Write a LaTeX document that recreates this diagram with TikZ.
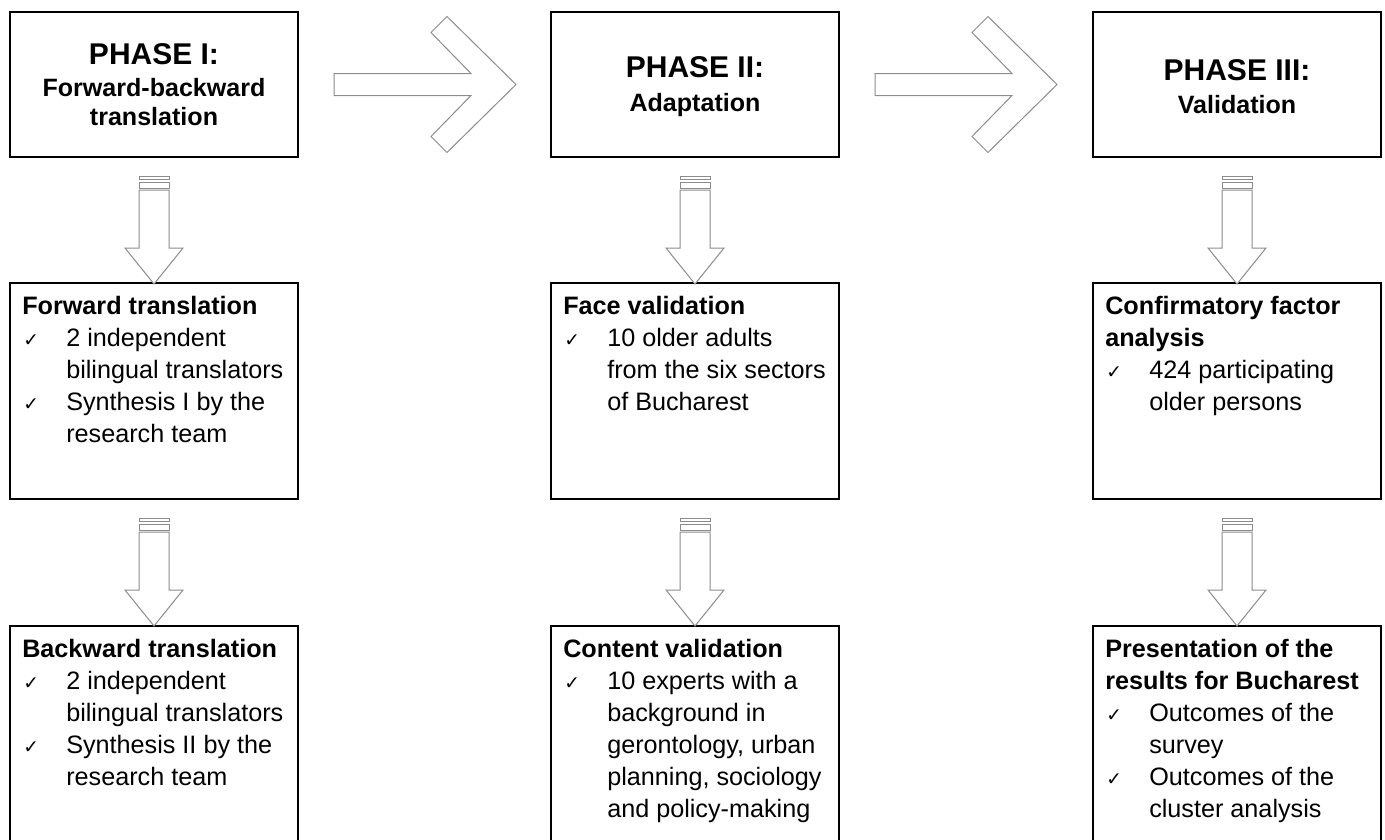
\documentclass[tikz,border=0pt]{standalone}
\usepackage{fontspec}
\setmainfont{Liberation Sans}
\newfontfamily\chkfont{DejaVu Sans}
\usetikzlibrary{calc}
\newcommand\mychk{\makebox[33pt][l]{\hspace{0.75pt}{\chkfont\fontsize{14pt}{24pt}\selectfont ✓}}}
\newcommand\myind{\hspace*{33pt}}
\begin{document}
\begin{tikzpicture}[x=0.75pt,y=-0.75pt,
 box/.style={draw=black, line width=1.5pt, minimum width=216pt, inner sep=0pt, anchor=north west},
 phasebox/.style={box, minimum height=108.75pt},
 stepbox/.style={box, minimum height=162pt},
 phasetext/.style={align=center, font=\bfseries\fontsize{18.8pt}{22pt}\selectfont, inner sep=0pt},
 bodytext/.style={align=left, anchor=north west, inner sep=0pt, font=\fontsize{18.9pt}{24pt}\selectfont},
 hollow/.style={draw=black!45, line width=0.75pt, fill=white, line join=miter},
]
\useasboundingbox (0,0) rectangle (1385,839);
\clip (0,0) rectangle (1385,839);

% phase boxes
\node[phasebox] (p1) at (9,11) {};
\node[phasebox] (p2) at (550,11) {};
\node[phasebox] (p3) at (1092,11) {};
\node[phasetext] (p1t) at (p1.center) {{\fontsize{22.5pt}{22pt}\selectfont PHASE I:}\\[2pt]Forward-backward\\translation};
\node[phasetext] (p2t) at ($(p2.center)+(0,2)$) {{\fontsize{22.5pt}{22pt}\selectfont PHASE II:}\\[3pt]Adaptation};
\node[phasetext] (p3t) at ($(p3.center)+(0,2)$) {{\fontsize{22.5pt}{22pt}\selectfont PHASE III:}\\[3pt]Validation};

% middle boxes
\node[stepbox] (m1) at (9,282) {};
\node[stepbox] (m2) at (550,282) {};
\node[stepbox] (m3) at (1092,282) {};
% bottom boxes
\node[stepbox] (b1) at (9,625) {};
\node[stepbox] (b2) at (550,625) {};
\node[stepbox] (b3) at (1092,625) {};

\node[bodytext] (m1t) at ($(m1.north west)+(13,14)$) {{\bfseries Forward translation}\\\mychk 2 independent\\\myind bilingual translators\\\mychk Synthesis I by the\\\myind research team};
\node[bodytext] (b1t) at ($(b1.north west)+(13,14)$) {{\bfseries Backward translation}\\\mychk 2 independent\\\myind bilingual translators\\\mychk Synthesis II by the\\\myind research team};
\node[bodytext] (m2t) at ($(m2.north west)+(13,14)$) {{\bfseries Face validation}\\\mychk 10 older adults\\\myind from the six sectors\\\myind of Bucharest};
\node[bodytext] (b2t) at ($(b2.north west)+(13,14)$) {{\bfseries Content validation}\\\mychk 10 experts with a\\\myind background in\\\myind gerontology, urban\\\myind planning, sociology\\\myind and policy-making};
\node[bodytext] (m3t) at ($(m3.north west)+(13,14)$) {{\bfseries Confirmatory factor}\\{\bfseries analysis}\\\mychk 424 participating\\\myind older persons};
\node[bodytext] (b3t) at ($(b3.north west)+(13,14)$) {{\bfseries Presentation of the}\\{\bfseries results for Bucharest}\\\mychk Outcomes of the\\\myind survey\\\mychk Outcomes of the\\\myind cluster analysis};

% right block arrows
\foreach \a in {p1,p2}{
 \begin{scope}[shift={(\a.east)}]
  \draw[hollow] (35,-11) -- (172,-11) -- (132,-52) -- (148,-68) -- (217,0) -- (148,68) -- (132,52) -- (172,11) -- (35,11) -- cycle;
 \end{scope}
}
% striped down arrows
\foreach \a in {p1,p2,p3,m1,m2,m3}{
 \begin{scope}[shift={(\a.south)}]
  \draw[hollow] (-15,18) rectangle (15,21);
  \draw[hollow] (-15,24) rectangle (15,30);
  \draw[hollow] (-15,32) -- (15,32) -- (15,90) -- (29,90) -- (0,126) -- (-29,90) -- (-15,90) -- cycle;
 \end{scope}
}
\end{tikzpicture}
\end{document}
